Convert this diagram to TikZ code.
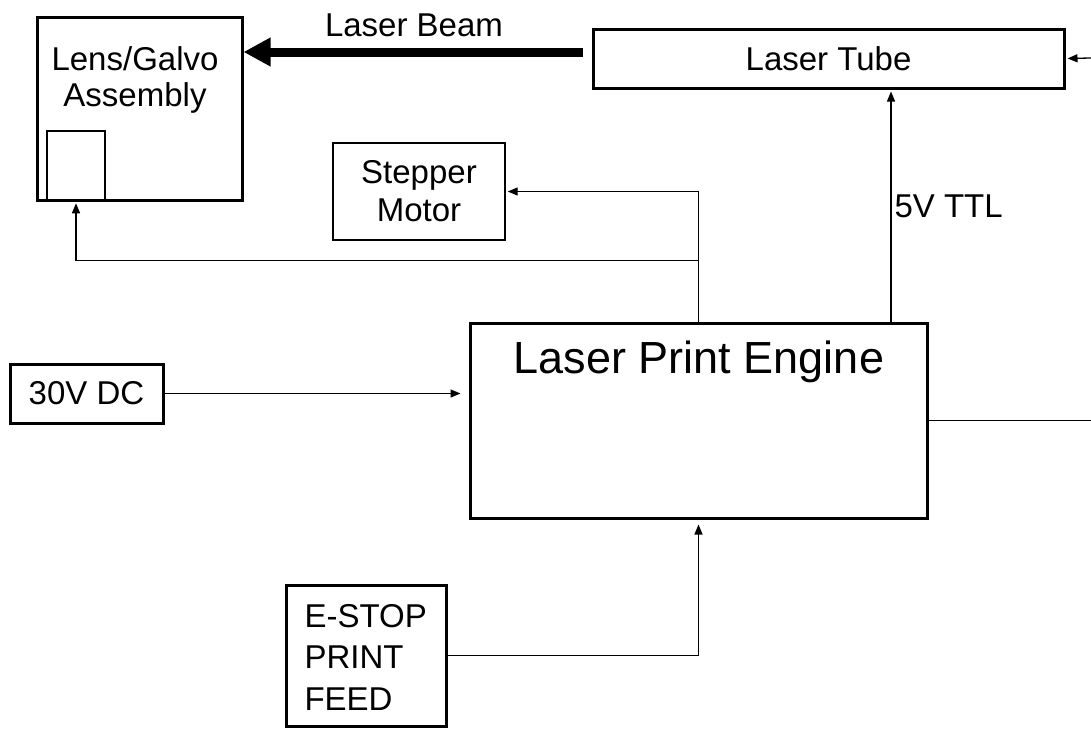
\documentclass[tikz,border=0pt]{standalone}
\usepackage{fontspec}
\setmainfont{Liberation Sans}
\usetikzlibrary{arrows.meta}
\tikzset{
	heavybox/.style={draw, line width=3pt, inner sep=0pt},
	lightbox/.style={draw, line width=1.4pt, inner sep=0pt},
	sig/.style={line width=1.3pt, -{Triangle[length=10pt,width=8pt]}},
	wire/.style={line width=1.3pt},
	beam/.style={line width=9pt, -{Triangle[length=27pt,width=27pt]}},
	lbl/.style={font=\fontsize{33}{38}\selectfont},
}

\begin{document}
\begin{tikzpicture}[x=1pt, y=-1pt]
		%%%%% START %%%%%
		\useasboundingbox (0, 0) rectangle (1091, 728);
		
		\node[heavybox, minimum width=205pt, minimum height=183pt] (lens) at (139.5, 108.5) {};
		\node[lbl, align=center, font=\fontsize{33}{36}\selectfont] (lenstext) at (135, 80) {Lens/Galvo\\Assembly};
		\node[heavybox, line width=2.5pt, minimum width=58pt, minimum height=69pt] (galvo) at (76, 165.5) {};
		
		\node[heavybox, minimum width=471pt, minimum height=59pt, lbl] (tube) at (828.5, 58.5) {Laser Tube};
		\node[lightbox, minimum width=172pt, minimum height=97pt, lbl, align=center] (stepper) at (419, 191.5) {Stepper\\Motor};
		
		\node[heavybox, minimum width=457pt, minimum height=195pt] (engine) at (698.5, 420.5) {};
		\node[font=\fontsize{45}{50}\selectfont] (enginetext) at (699, 362) {Laser Print Engine};
		
		\node[heavybox, minimum width=153pt, minimum height=59pt, lbl] (dc) at (86.5, 393.5) {30V DC};
		\node[heavybox, minimum width=160pt, minimum height=141pt] (estop) at (366, 655.5) {};
		\node[anchor=west, align=left, font=\fontsize{33}{41.5}\selectfont] (estoptext) at (301, 657) {E-STOP\\PRINT\\FEED};
		
		% laser beam
		\coordinate (beamstart) at (583, 52);
		\draw[beam] (beamstart) -- (lens.east |- beamstart);
		\node[lbl] (beamtext) at (414, 25) {Laser Beam};
		
		% inputs to the tube
		\coordinate (tubein) at (1091, 58);
		\draw[sig, shorten >=2pt] (tubein) -- (tube.east);
		\coordinate (ttl) at (891, 0);
		\draw[sig, shorten >=2pt] (engine.north -| ttl) -- (tube.south -| ttl);
		\node[lbl, anchor=west] (ttltext) at (891, 206) {5V TTL};
		
		% motion outputs
		\draw[sig, shorten >=2pt] (engine.north) |- (stepper.east);
		\draw[sig, shorten >=2pt] (engine.north) -- ++(0, -61) -| (galvo.south);
		
		% power, e-stop, output
		\draw[sig, shorten >=8pt] (dc.east) -- (engine.west |- dc.east);
		\draw[sig, shorten >=5pt] (estop.east) -| (engine.south);
		\coordinate (out) at (1091, 420.5);
		\draw[wire] (engine.east) -- (out);
		%%%%% END %%%%%
	\end{tikzpicture}
\end{document}
